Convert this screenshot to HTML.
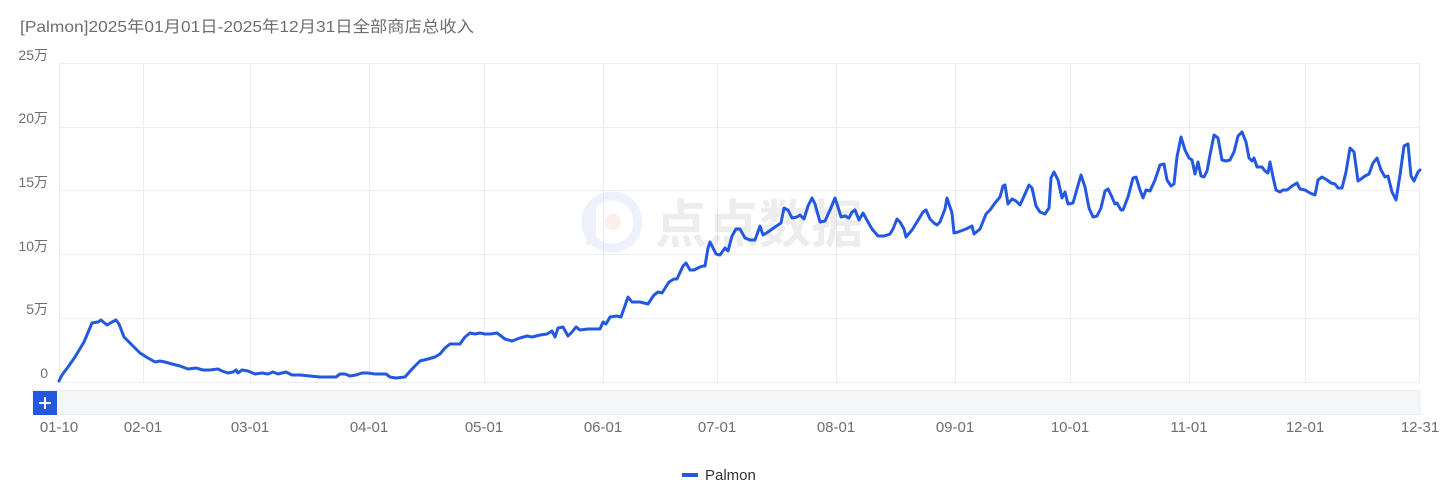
<!DOCTYPE html>
<html><head><meta charset="utf-8"><style>
body{margin:0;background:#fff;width:1440px;height:495px;overflow:hidden;font-family:"Liberation Sans","Noto Sans CJK SC",sans-serif;}
</style></head><body>
<svg width="1440" height="495" xmlns="http://www.w3.org/2000/svg" style="position:absolute;left:0;top:0">
<text x="20" y="32" font-size="16" fill="#6e6e6e" textLength="454" lengthAdjust="spacingAndGlyphs" font-family="Liberation Sans, Noto Sans CJK SC, sans-serif">[Palmon]2025年01月01日-2025年12月31日全部商店总收入</text>
<g stroke="#ebedf0" stroke-width="1">
<line x1="59" y1="63.5" x2="1420" y2="63.5"/><line x1="59" y1="127.5" x2="1420" y2="127.5"/>
<line x1="59" y1="190.5" x2="1420" y2="190.5"/><line x1="59" y1="254.5" x2="1420" y2="254.5"/>
<line x1="59" y1="318.5" x2="1420" y2="318.5"/><line x1="59" y1="382.5" x2="1420" y2="382.5"/>
<line x1="59.5" y1="63" x2="59.5" y2="382"/><line x1="143.5" y1="63" x2="143.5" y2="382"/>
<line x1="250.5" y1="63" x2="250.5" y2="382"/><line x1="369.5" y1="63" x2="369.5" y2="382"/>
<line x1="484.5" y1="63" x2="484.5" y2="382"/><line x1="603.5" y1="63" x2="603.5" y2="382"/>
<line x1="717.5" y1="63" x2="717.5" y2="382"/><line x1="836.5" y1="63" x2="836.5" y2="382"/>
<line x1="955.5" y1="63" x2="955.5" y2="382"/><line x1="1070.5" y1="63" x2="1070.5" y2="382"/>
<line x1="1189.5" y1="63" x2="1189.5" y2="382"/><line x1="1305.5" y1="63" x2="1305.5" y2="382"/>
<line x1="1419.5" y1="63" x2="1419.5" y2="382"/>
</g>
<g font-size="14" fill="#6e6e6e" text-anchor="end" font-family="Liberation Sans, Noto Sans CJK SC, sans-serif">
<text x="48" y="60">25万</text><text x="48" y="123">20万</text><text x="48" y="187">15万</text>
<text x="48" y="251">10万</text><text x="48" y="314">5万</text><text x="48" y="378">0</text>
</g>
<g opacity="0.4">
<circle cx="612" cy="222" r="26" fill="none" stroke="#d5defa" stroke-width="9"/>
<rect x="586" y="205" width="10" height="40" fill="#d5defa"/>
<circle cx="613" cy="222" r="8" fill="#fbd5d5"/>
</g>
<text x="655" y="243" font-size="52" font-weight="bold" fill="#000" fill-opacity="0.07" font-family="Noto Sans CJK SC, sans-serif">点点数据</text>
<polyline fill="none" stroke="#2458e0" stroke-width="3" stroke-linejoin="round" stroke-linecap="round" points="
59,381 62,375 68,367 75,357 84,342 92,323 98,322 101,320 107,325 112,322 116,320 119,324 124,337 132,345 140,353 148,358 155,362 160,361 165,362 172,364 180,366 188,369 196,368 203,370 210,370 218,369 222,371 228,373 233,372 236,370 238,373 242,370 248,371 255,374 262,373 268,374 273,372 278,374 286,372 292,375 300,375 310,376 320,377 330,377 336,377 340,374 345,374 350,376 356,375 362,373 368,373 375,374 386,374 390,377 396,378 405,377 412,369 420,361 428,359 435,357 440,354 445,348 450,344 456,344 460,344 465,337 470,333 475,334 480,333 485,334 490,334 497,333 505,339 512,341 520,338 527,336 532,337 540,335 547,334 552,331 555,337 558,328 563,327 568,336 572,332 576,327 580,330 588,329 596,329 600,329 603,322 606,324 610,317 617,316 621,317 628,297 632,302 640,302 648,304 654,295 658,292 662,293 669,282 674,279 677,279 683,266 686,263 690,270 694,270 700,267 703,266 705,266 708,248 710,242 713,248 716,254 720,255 725,248 728,251 732,236 736,229 740,229 745,238 750,240 755,240 760,226 763,235 768,232 775,227 781,223 784,208 788,210 792,218 797,217 800,215 804,219 808,206 812,198 815,204 820,222 825,221 830,210 835,198 838,207 841,217 845,216 849,218 852,212 855,210 859,220 863,213 868,222 872,229 878,236 884,236 890,234 893,229 897,219 900,222 904,229 906,237 912,230 917,222 923,212 926,210 930,219 934,223 937,225 940,222 945,209 947,198 952,213 954,233 958,232 966,229 972,226 974,234 980,229 986,214 990,210 995,203 1000,197 1003,186 1005,185 1008,204 1012,199 1016,201 1020,205 1025,194 1029,185 1032,188 1036,206 1040,212 1045,214 1049,208 1051,178 1054,172 1058,180 1062,198 1065,192 1068,204 1073,203 1077,189 1081,175 1085,187 1089,208 1093,217 1097,216 1101,208 1105,191 1108,189 1111,195 1115,204 1117,203 1121,210 1123,210 1128,197 1133,178 1136,177 1140,190 1143,198 1146,190 1150,191 1155,180 1160,165 1164,164 1167,180 1171,186 1174,184 1177,157 1181,137 1185,150 1189,158 1192,160 1195,174 1198,162 1201,176 1204,177 1207,171 1210,155 1214,135 1218,138 1222,160 1226,161 1230,160 1234,152 1238,136 1242,132 1246,142 1249,158 1252,161 1254,158 1257,167 1262,167 1265,171 1268,173 1270,162 1273,177 1276,190 1280,192 1283,190 1287,190 1292,186 1297,183 1300,189 1305,190 1310,193 1315,195 1318,180 1322,177 1327,180 1331,183 1335,184 1338,188 1342,188 1346,172 1350,148 1354,152 1358,181 1361,179 1365,176 1369,174 1373,163 1377,158 1381,170 1385,177 1388,176 1392,192 1396,200 1400,175 1404,146 1408,144 1411,176 1414,181 1418,172 1420,170"/>
<rect x="33" y="390.5" width="1387" height="24" fill="#f5f6f8" stroke="#ebedf0"/>
<rect x="33" y="391" width="24" height="24" fill="#2458e0"/>
<path d="M45 397v12M39 403h12" stroke="#fff" stroke-width="2"/>
<g font-size="15" fill="#6e6e6e" text-anchor="middle">
<text x="59" y="432">01-10</text><text x="143" y="432">02-01</text><text x="250" y="432">03-01</text>
<text x="369" y="432">04-01</text><text x="484" y="432">05-01</text><text x="603" y="432">06-01</text>
<text x="717" y="432">07-01</text><text x="836" y="432">08-01</text><text x="955" y="432">09-01</text>
<text x="1070" y="432">10-01</text><text x="1189" y="432">11-01</text><text x="1305" y="432">12-01</text>
<text x="1420" y="432">12-31</text>
</g>
<line x1="682" y1="475" x2="698" y2="475" stroke="#2458e0" stroke-width="4"/>
<text x="705" y="480" font-size="15" fill="#333">Palmon</text>
</svg>
</body></html>
